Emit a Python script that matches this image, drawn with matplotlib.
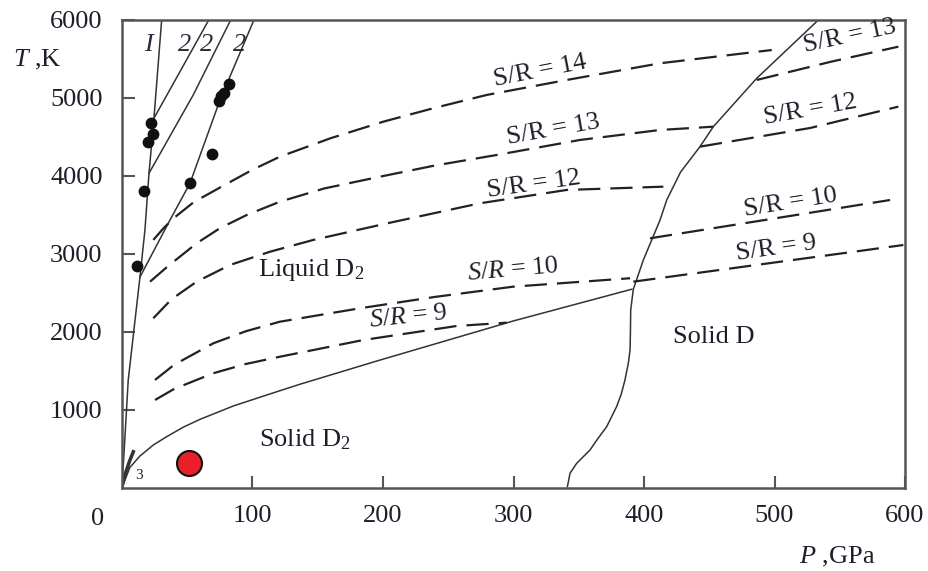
import matplotlib
matplotlib.use('Agg')
import matplotlib.pyplot as plt

plt.rcParams['font.family'] = ['Liberation Serif', 'DejaVu Serif']
plt.rcParams['mathtext.fontset'] = 'custom'
plt.rcParams['mathtext.rm'] = 'Liberation Serif'
plt.rcParams['mathtext.it'] = 'Liberation Serif:italic'

# melting curves (lines 1, 2, 3) and experimental points
line1_p = [0, 4.8, 13.8, 17.6, 20.7, 24.5, 30.4]
line1_t = [0, 1385, 2709, 3308, 4035, 4740, 6000]
line2a_p = [24.5, 66.5]
line2a_t = [4740, 6000]
line2b_p = [20.7, 54.6, 83.3]
line2b_t = [4035, 5039, 6000]
line2c_p = [13.8, 36.8, 52.1, 75.1, 101.1]
line2c_t = [2705, 3436, 3906, 4974, 6000]
line3_p = [0, 2.5, 5.5, 8.7]
line3_t = [17, 180, 330, 465]

dots_p = [22.0, 24.0, 19.7, 17.1, 11.3, 82.2, 78.2, 75.9, 74.3, 68.7, 52.1]
dots_t = [4676, 4538, 4440, 3808, 2850, 5175, 5060, 5026, 4961, 4278, 3914]

red_p = [51.6]
red_t = [324]

# solid D2 / liquid boundary
melt_p = [0, 2.3, 6.1, 13.8, 24, 34.3, 47, 59.8, 85.3, 110.9, 136.4, 197.7, 299.8, 390.6]
melt_t = [0, 103, 265, 410, 551, 658, 780, 880, 1051, 1192, 1330, 1640, 2141, 2548]

# solid D boundary
solidD_p = [341.3, 343.3, 348.4, 358.6, 364.5, 371.4, 379.0, 382.5, 385.4, 388.0, 389.3,
            389.6, 389.8, 391.8, 399.5, 412.3, 417.4, 428.0, 442.9, 453.1, 486.4, 533.6]
solidD_t = [17, 188, 316, 487, 630, 786, 1043, 1200, 1385, 1600, 1769,
            2000, 2282, 2548, 2923, 3436, 3692, 4050, 4376, 4632, 5253, 6000]

# isentropes
sr14_p = [24.0, 32.0, 39.3, 55.0, 77.6, 100.0, 121.1, 160.0, 200.2, 240.0, 279.5, 340.8, 412.3, 497.9]
sr14_t = [3180, 3333, 3455, 3665, 3875, 4080, 4248, 4485, 4696, 4875, 5039, 5231, 5445, 5615]
sr13_p = [21.5, 35.0, 57.2, 75.0, 95.6, 121.1, 155.0, 197.7, 240.0, 287.1, 351.0, 412.3, 453.1]
sr13_t = [2645, 2840, 3137, 3330, 3500, 3671, 3840, 3991, 4135, 4269, 4462, 4590, 4632]
sr13r_p = [486.4, 542.5, 594.9]
sr13r_t = [5231, 5462, 5658]
sr12_p = [24.0, 38.0, 57.2, 82.8, 113.4, 146.6, 205.4, 274.3, 340.8, 414.8]
sr12_t = [2176, 2420, 2645, 2859, 3029, 3180, 3401, 3650, 3821, 3863]
sr12r_p = [442.9, 527.2, 594.9]
sr12r_t = [4376, 4615, 4889]
sr10_p = [25.3, 40.0, 70.0, 95.0, 121.1, 182.4, 240.0, 299.8, 389.3]
sr10_t = [1385, 1580, 1855, 2010, 2132, 2304, 2450, 2581, 2689]
sr10r_p = [404.6, 588.5]
sr10r_t = [3201, 3692]
sr9_p = [25.3, 40.0, 70.0, 95.0, 121.1, 184.9, 256.5, 294.8]
sr9_t = [1128, 1270, 1471, 1590, 1683, 1897, 2077, 2119]
sr9r_p = [391.8, 598.7]
sr9r_t = [2645, 3115]

fig = plt.figure(figsize=(9.29, 5.71), dpi=100)
ax = fig.add_axes([0.1313, 0.1454, 0.8429, 0.8196])

lc = '#333333'
for p, t in [(line1_p, line1_t), (line2a_p, line2a_t), (line2b_p, line2b_t),
             (line2c_p, line2c_t), (melt_p, melt_t), (solidD_p, solidD_t)]:
    ax.plot(p, t, color=lc, lw=1.1)
ax.plot(line3_p, line3_t, color=lc, lw=2.5)

dash = (0, (10, 4.5))
for p, t in [(sr14_p, sr14_t), (sr13_p, sr13_t), (sr13r_p, sr13r_t),
             (sr12_p, sr12_t), (sr12r_p, sr12r_t), (sr10_p, sr10_t),
             (sr10r_p, sr10r_t), (sr9_p, sr9_t), (sr9r_p, sr9r_t)]:
    ax.plot(p, t, color='#222222', lw=1.6, linestyle=dash)

ax.plot(dots_p, dots_t, 'o', color='#111111', ms=8.5, mec='none')
ax.plot(red_p, red_t, 'o', color='#e8202a', ms=18, mec='#111111', mew=1.5)

tc = '#1e1e2a'
fs = 19
ax.text(145.2, 2795, 'Liquid D$_2$', fontsize=fs, color=tc, ha='center', va='center')
ax.text(140.2, 615, 'Solid D$_2$', fontsize=fs, color=tc, ha='center', va='center')
ax.text(453.1, 1940, 'Solid D', fontsize=fs, color=tc, ha='center', va='center')
ax.text(13, 154, '3', fontsize=11, color=tc, ha='center', va='center')

for x, lab in [(20.2, 'I'), (48.3, '2'), (64.9, '2'), (90.4, '2')]:
    ax.text(x, 5680, lab, fontsize=19, color='#2a2a3a', ha='center', va='center',
            style='italic')

sr_labels = [
    (320.3, 5338, 11, 'S/R = 14'),
    (330.5, 4590, 10, 'S/R = 13'),
    (315.2, 3885, 8, 'S/R = 12'),
    (299.8, 2795, 5, '$S/R$ = 10'),
    (219.2, 2192, 6, '$S/R$ = 9'),
    (557.9, 5786, 12, 'S/R = 13'),
    (527.2, 4846, 10, 'S/R = 12'),
    (512.6, 3654, 9, 'S/R = 10'),
    (501.7, 3073, 8, 'S/R = 9'),
]
for x, y, rot, lab in sr_labels:
    ax.text(x, y, lab, fontsize=fs, color=tc, ha='center', va='center',
            rotation=rot, rotation_mode='anchor')

ax.set_xlim(0, 600)
ax.set_ylim(0, 6000)
ax.set_xticks([100, 200, 300, 400, 500, 600])
ax.set_yticks([1000, 2000, 3000, 4000, 5000, 6000])
ax.tick_params(direction='in', length=9, width=1.5, color='#555555',
               labelsize=fs, labelcolor=tc)
ax.tick_params(axis='x', pad=12)
ax.tick_params(axis='y', pad=14)
for s in ax.spines.values():
    s.set_color('#555555')
    s.set_linewidth(1.8)

ax.text(-19, -400, '0', fontsize=fs, color=tc, ha='center', va='center', clip_on=False)
fig.text(37 / 929, 1 - 60 / 571, '$T$ ,K', fontsize=fs, color=tc, ha='center', va='center')
fig.text(837 / 929, 1 - 557 / 571, '$P$ ,GPa', fontsize=fs, color=tc, ha='center', va='center')

fig.savefig('out.png', dpi=100)
